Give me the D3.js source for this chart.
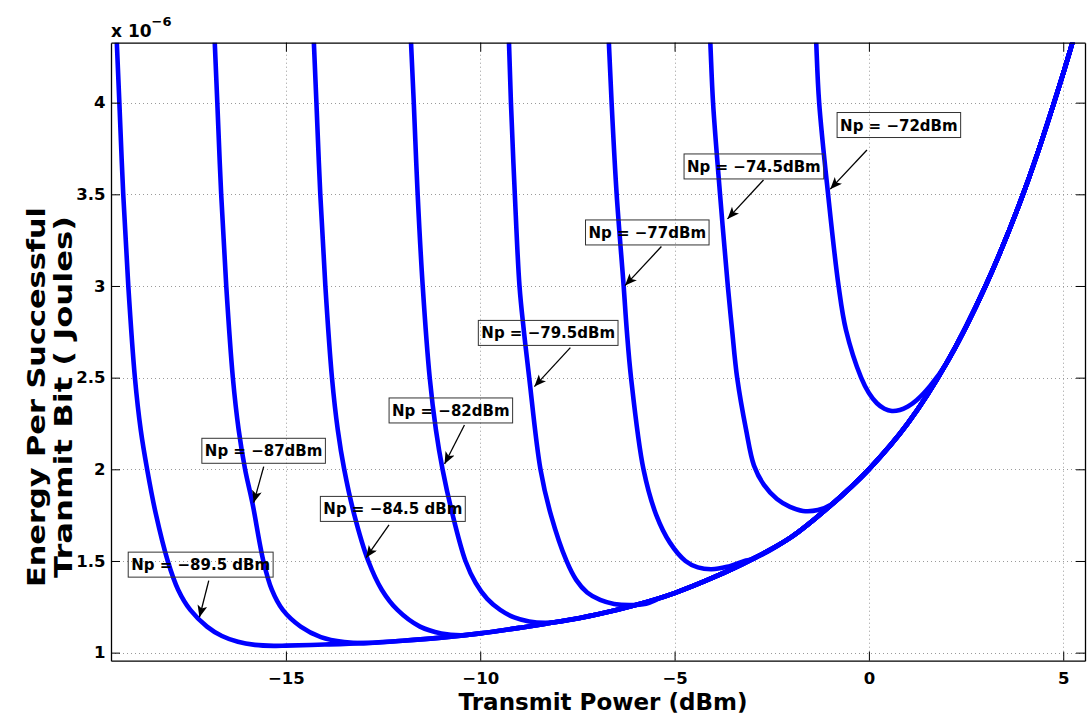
<!DOCTYPE html>
<html>
<head>
<meta charset="utf-8">
<script src="https://cdn.jsdelivr.net/npm/d3@7/dist/d3.min.js"></script>
<style>
  html, body { margin: 0; padding: 0; background: #fff; }
  svg { display: block; }
  text { font-family: "DejaVu Sans", sans-serif; font-weight: bold; }
</style>
</head>
<body>
<svg id="chart" width="1087" height="716"></svg>
<script>
// ---------------- DATA ----------------
// Noise power of each curve (dBm)
const noiseLevels = [-89.5, -87, -84.5, -82, -79.5, -77, -74.5, -72];

// Steep, noise-limited branch of each curve: transmit power (dBm)
const branchPower = [
  [-19.40, -19.35, -19.285, -19.185, -19.055, -18.885, -18.735, -18.57, -18.35, -18.04, -17.77, -17.46, -17.03, -16.645, -16.234, -15.797, -15.308],
  [-16.88, -16.83, -16.765, -16.665, -16.535, -16.365, -16.215, -16.05, -15.86, -15.58, -15.36, -15.08, -14.62, -14.10, -13.50],
  [-14.33, -14.28, -14.215, -14.115, -13.985, -13.815, -13.665, -13.50, -13.25, -12.88, -12.53, -12.13, -11.55, -11.00, -10.50],
  [-11.83, -11.78, -11.71, -11.61, -11.48, -11.30, -11.14, -10.97, -10.72, -10.38, -10.116, -9.820, -9.486, -9.126, -8.740, -8.329],
  [-9.30, -9.26, -9.21, -9.11, -8.99, -8.88, -8.74, -8.45, -8.18, -7.78, -7.532, -7.249, -6.915, -6.555, -6.144, -5.733, -5.373],
  [-6.74, -6.69, -6.62, -6.49, -6.31, -6.23, -6.12, -5.80, -5.47, -5.12, -4.72, -4.40, -4.05, -3.65, -3.20],
  [-4.14, -4.08, -4.01, -3.83, -3.63, -3.52, -3.39, -3.16, -2.956, -2.70, -2.365, -2.03, -1.697, -1.311, -0.951, -0.617],
  [-1.40, -1.355, -1.28, -1.05, -0.78, -0.59, -0.20, 0.0, 0.206, 0.399, 0.591, 0.797, 1.003, 1.234, 1.576]
];
// ... and the matching energy per successful bit (x 1e-6 J)
const branchEnergy = [
  [4.6, 4.327, 4.0, 3.5, 3.0, 2.5, 2.215, 2.0, 1.76, 1.5, 1.342, 1.233, 1.142, 1.0905, 1.0589, 1.0425, 1.0371],
  [4.6, 4.327, 4.0, 3.5, 3.0, 2.5, 2.215, 2.0, 1.815, 1.5, 1.342, 1.233, 1.142, 1.085, 1.058],
  [4.6, 4.327, 4.0, 3.5, 3.0, 2.5, 2.215, 2.0, 1.76, 1.5, 1.342, 1.233, 1.142, 1.105, 1.095],
  [4.6, 4.327, 4.0, 3.5, 3.0, 2.5, 2.215, 2.0, 1.76, 1.5, 1.380, 1.293, 1.233, 1.192, 1.170, 1.163],
  [4.6, 4.327, 4.0, 3.5, 3.0, 2.76, 2.5, 2.0, 1.75, 1.5, 1.397, 1.328, 1.2875, 1.2656, 1.2591, 1.2667, 1.297],
  [4.6, 4.327, 4.0, 3.5, 3.0, 2.76, 2.5, 2.0, 1.75, 1.6, 1.5, 1.465, 1.455, 1.468, 1.50],
  [4.6, 4.327, 4.0, 3.5, 3.0, 2.76, 2.5, 2.216, 2.02, 1.915, 1.838, 1.795, 1.773, 1.778, 1.81, 1.872],
  [4.6, 4.327, 4.0, 3.5, 3.0, 2.76, 2.5, 2.4166, 2.3604, 2.3304, 2.3184, 2.3238, 2.3429, 2.3784, 2.455]
];

// Common power-limited part that every curve joins
const sharedPower  = [-15, -14, -13, -12, -11, -10, -9, -8, -7, -6, -5, -4, -3, -2, -1, 0, 1, 2, 3, 4, 5, 5.6];
const sharedEnergy = [1.038, 1.044, 1.052, 1.065, 1.082, 1.105, 1.135, 1.168, 1.208, 1.26, 1.325, 1.41, 1.51, 1.63, 1.8, 2.0, 2.25, 2.58, 3.0, 3.52, 4.16, 4.6];

// Axis ticks
const xTicks = [-15, -10, -5, 0, 5];
const yTicks = [1, 1.5, 2, 2.5, 3, 3.5, 4];

// Annotation labels (centre of box, arrow tail and arrow tip, in data units)
const labelText = ["Np = \u221289.5 dBm", "Np = \u221287dBm", "Np = \u221284.5 dBm", "Np = \u221282dBm",
                   "Np = \u221279.5dBm", "Np = \u221277dBm", "Np = \u221274.5dBm", "Np = \u221272dBm"];
const labelX = [-17.193, -15.573, -12.249, -10.756, -8.252, -5.702, -2.959, 0.771];
const labelY = [1.48, 2.101, 1.784, 2.321, 2.744, 3.292, 3.652, 3.878];
const arrowTailX = [-16.985, -15.571, -12.347, -10.406, -7.681, -5.339, -2.712, -0.05];
const arrowTailY = [1.393, 2.015, 1.697, 2.242, 2.664, 3.215, 3.578, 3.742];
const arrowTipX = [-17.224, -15.828, -12.938, -10.918, -8.607, -6.275, -3.638, -0.995];
const arrowTipY = [1.193, 1.818, 1.518, 2.029, 2.451, 3.002, 3.366, 3.528];

// ---------------- CHART ----------------
const svg = d3.select("#chart");
const L = 111, R = 1085, T = 42.7, B = 660.7;

const x = d3.scaleLinear().domain([-19.5, 5.56]).range([L, R]);
const y = d3.scaleLinear().domain([0.956, 4.327]).range([B, T]);

const defs = svg.append("defs");
defs.append("clipPath").attr("id", "plotClip")
  .append("rect").attr("x", L).attr("y", T).attr("width", R - L).attr("height", B - T);

// grid
const grid = svg.append("g").attr("stroke", "#9a9a9a").attr("stroke-width", 1)
  .attr("stroke-dasharray", "1,3");
grid.selectAll("line.v").data(xTicks).join("line").attr("class", "v")
  .attr("x1", d => Math.round(x(d)) + 0.5).attr("x2", d => Math.round(x(d)) + 0.5)
  .attr("y1", T).attr("y2", B);
grid.selectAll("line.h").data(yTicks).join("line").attr("class", "h")
  .attr("y1", d => Math.round(y(d)) + 0.5).attr("y2", d => Math.round(y(d)) + 0.5)
  .attr("x1", L).attr("x2", R);

// curves
const series = noiseLevels.map((np, i) => {
  const pts = branchPower[i].map((p, j) => [p, branchEnergy[i][j]]);
  const last = branchPower[i][branchPower[i].length - 1];
  sharedPower.forEach((p, j) => { if (p > last) pts.push([p, sharedEnergy[j]]); });
  return pts;
});
const line = d3.line().x(d => x(d[0])).y(d => y(d[1])).curve(d3.curveCatmullRom.alpha(0.5));
svg.append("g").attr("clip-path", "url(#plotClip)")
  .selectAll("path").data(series).join("path")
  .attr("d", line).attr("fill", "none").attr("stroke", "#0000ff")
  .attr("stroke-width", 4.6).attr("stroke-linejoin", "round").attr("stroke-linecap", "round");

// axes
const gx = svg.append("g").attr("transform", `translate(0,${B})`)
  .call(d3.axisBottom(x).tickValues(xTicks).tickFormat(d3.format("")).tickSizeInner(-9).tickSizeOuter(0).tickPadding(11.5));
const gxt = svg.append("g").attr("transform", `translate(0,${T})`)
  .call(d3.axisTop(x).tickValues(xTicks).tickFormat("").tickSizeInner(-9).tickSizeOuter(0));
const gy = svg.append("g").attr("transform", `translate(${L},0)`)
  .call(d3.axisLeft(y).tickValues(yTicks).tickFormat(d3.format("")).tickSizeInner(-9).tickSizeOuter(0).tickPadding(5.5));
const gyr = svg.append("g").attr("transform", `translate(${R},0)`)
  .call(d3.axisRight(y).tickValues(yTicks).tickFormat("").tickSizeInner(-9).tickSizeOuter(0));
[gx, gxt, gy, gyr].forEach(g => {
  g.select(".domain").attr("stroke", "#000").attr("stroke-width", 1.3);
  g.selectAll(".tick line").attr("stroke", "#000").attr("stroke-width", 1);
  g.selectAll("text").attr("font-family", "DejaVu Sans").attr("font-weight", "bold")
    .attr("font-size", 16.5).attr("fill", "#000");
});

// exponent label
const expo = svg.append("text").attr("x", L).attr("y", 37).attr("font-size", 17).attr("fill", "#000");
expo.append("tspan").text("x 10");
expo.append("tspan").attr("font-size", 13).attr("dy", -11).text("\u22126");

// axis titles
svg.append("text").attr("x", 603).attr("y", 710).attr("text-anchor", "middle")
  .attr("font-size", 23).attr("fill", "#000").text("Transmit Power (dBm)");
const yt = svg.append("text").attr("transform", "translate(0,397) rotate(-90)")
  .attr("text-anchor", "middle").attr("font-size", 24).attr("fill", "#000");
yt.append("tspan").attr("x", 0).attr("y", 45).attr("textLength", 380).attr("lengthAdjust", "spacingAndGlyphs")
  .text("Energy Per Successful");
yt.append("tspan").attr("x", 0).attr("y", 72).attr("textLength", 362).attr("lengthAdjust", "spacingAndGlyphs")
  .text("Tranmit Bit ( Joules)");

// arrowhead
defs.append("marker").attr("id", "arrowHead")
  .attr("markerUnits", "userSpaceOnUse").attr("markerWidth", 14).attr("markerHeight", 12)
  .attr("refX", 12).attr("refY", 5).attr("orient", "auto")
  .append("path").attr("d", "M0,0 L12,5 L0,10 L3,5 Z").attr("fill", "#000");

// annotations
const ann = svg.append("g");
labelText.forEach((t, i) => {
  const cx = x(labelX[i]), cy = y(labelY[i]);
  const txt = ann.append("text").attr("x", cx).attr("y", cy + 5.5).attr("text-anchor", "middle")
    .attr("font-size", 15).attr("fill", "#000").text(t);
  const bb = txt.node().getBBox();
  ann.insert("rect", "text").attr("x", bb.x - 3).attr("y", cy - 12.5)
    .attr("width", bb.width + 6).attr("height", 25)
    .attr("fill", "none").attr("stroke", "#333").attr("stroke-width", 1);
  ann.append("line")
    .attr("x1", x(arrowTailX[i])).attr("y1", y(arrowTailY[i]))
    .attr("x2", x(arrowTipX[i])).attr("y2", y(arrowTipY[i]))
    .attr("stroke", "#000").attr("stroke-width", 1.3).attr("marker-end", "url(#arrowHead)");
});
</script>
</body>
</html>
